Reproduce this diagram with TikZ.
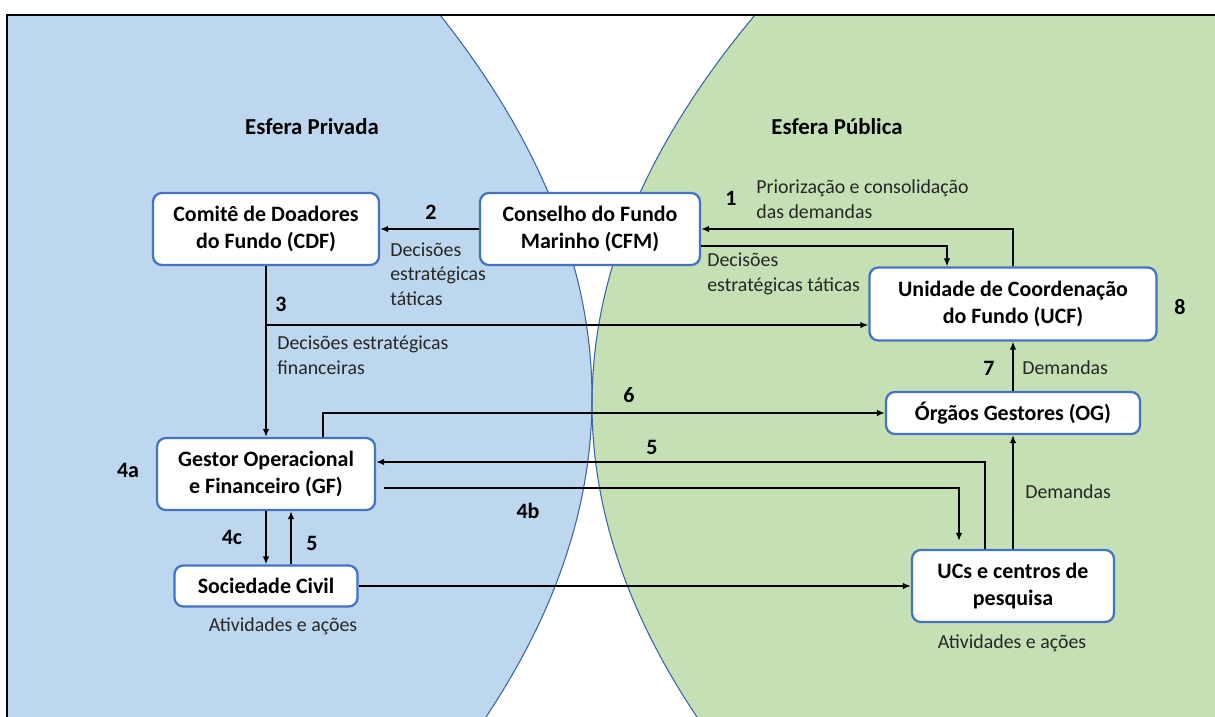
\documentclass[tikz,border=0pt]{standalone}
\usepackage{fontspec}
\setmainfont{Carlito}
\usepackage{xcolor}
\usetikzlibrary{arrows.meta,positioning,calc}
\definecolor{azulesfera}{HTML}{BDD7EE}
\definecolor{verdeesfera}{HTML}{C5E0B4}
\definecolor{bordaesfera}{HTML}{3A62AC}
\definecolor{bordacaixa}{HTML}{4472C4}
\tikzset{
  fundobox/.style={draw=bordacaixa,line width=1.3pt,fill=white,rounded corners=5pt,align=center,inner sep=0pt,font=\fontsize{12.5}{15.4}\selectfont\bfseries},
  seta/.style={-{Latex[length=4.6pt,width=3.8pt]},line width=1.15pt},
  rotulo/.style={font=\fontsize{11.3}{14}\selectfont,align=left,text=black!85,inner sep=0pt},
  numero/.style={font=\fontsize{12.5}{15}\selectfont\bfseries,inner sep=0pt},
  esfera/.style={font=\fontsize{13}{15}\selectfont\bfseries,inner sep=0pt},
  contorno/.style={bordaesfera,line width=0.6pt}
}

\begin{document}
\begin{tikzpicture}[x=0.02cm,y=-0.02cm]
  \useasboundingbox (0,0) rectangle (1215,717);
  \begin{scope}
    \clip (7,15) rectangle (1215,717);
    \fill[azulesfera] (0,15) -- (440,15) .. controls (541.3,142.7) and (592,270.3) .. (592,398)
      .. controls (592,504.3) and (556.7,610.7) .. (486,717) -- (0,717) -- cycle;
    \fill[verdeesfera] (1215,15) -- (755,15) .. controls (646.3,144.7) and (592,274.3) .. (592,404)
      .. controls (592,508.3) and (627,612.7) .. (697,717) -- (1215,717) -- cycle;
    \draw[contorno] (440,15) .. controls (541.3,142.7) and (592,270.3) .. (592,398)
      .. controls (592,504.3) and (556.7,610.7) .. (486,717);
    \draw[contorno] (755,15) .. controls (646.3,144.7) and (592,274.3) .. (592,404)
      .. controls (592,508.3) and (627,612.7) .. (697,717);
  \end{scope}
  \draw[line width=1.4pt] (7,717) -- (7,15) -- (1215,15);

  \node[esfera] (privada) at (312,127) {Esfera Privada};
  \node[esfera] (publica) at (837,127) {Esfera Pública};

  \node[fundobox,minimum width=4.52cm,minimum height=1.44cm] (cdf) at (266,229) {Comitê de Doadores\\do Fundo (CDF)};
  \node[fundobox,minimum width=4.4cm,minimum height=1.44cm] (cfm) at (590,229) {Conselho do Fundo\\Marinho (CFM)};
  \node[fundobox,minimum width=5.74cm,minimum height=1.46cm] (ucf) at (1013,304) {Unidade de Coordenação\\do Fundo (UCF)};
  \node[fundobox,minimum width=5.08cm,minimum height=0.84cm] (og) at (1013,413) {Órgãos Gestores (OG)};
  \node[fundobox,minimum width=4.36cm,minimum height=1.44cm] (gf) at (266,474) {Gestor Operacional\\e Financeiro (GF)};
  \node[fundobox,minimum width=3.66cm,minimum height=0.82cm] (sc) at (266,586) {Sociedade Civil};
  \node[fundobox,minimum width=4.04cm,minimum height=1.44cm] (ucs) at (1013,586) {UCs e centros de\\pesquisa};

  \draw[seta] (cfm) -- (cdf);
  \node[numero] (n2) at (431,212) {2};
  \node[rotulo,anchor=west] (t2) at (390,274) {Decisões\\estratégicas\\táticas};

  \draw[seta] (ucf.north) |- (cfm.east);
  \node[numero] (n1) at (731,198) {1};
  \node[rotulo,anchor=west] (t1) at (756,199) {Priorização e consolidação\\das demandas};

  \draw[seta] ($(cfm.east)+(0,17)$) -| ($(ucf.north)+(-66,0)$);
  \node[rotulo,anchor=west] (t1b) at (707,274) {Decisões\\estratégicas táticas};

  \draw[seta] (cdf) -- (gf);
  \coordinate (r3) at (266,325);
  \draw[seta] (r3) -- (r3 -| ucf.west);
  \node[numero] (n3) at (281,304) {3};
  \node[rotulo,anchor=west] (t3) at (277,355) {Decisões estratégicas\\financeiras};

  \draw[seta] ($(gf.north)+(57,0)$) |- (og.west);
  \node[numero] (n6) at (629,395) {6};

  \draw[seta] ($(ucs.north)+(-28,0)$) |- ($(gf.east)+(0,-12)$);
  \node[numero] (n5a) at (652,447) {5};

  \draw[seta] ($(gf.east)+(8,14)$) -| ($(ucs.north)+(-54,-8)$);
  \node[numero] (n4b) at (528,511) {4b};
  \node[numero] (n4a) at (128,470) {4a};

  \draw[seta] (og) -- (ucf);
  \node[numero] (n7) at (989,368) {7};
  \node[rotulo,anchor=west] (t7) at (1022,368) {Demandas};
  \node[numero] (n8) at (1180,307) {8};

  \draw[seta] (ucs) -- (og);
  \node[rotulo,anchor=west] (t9) at (1025,492) {Demandas};

  \draw[seta] (gf) -- (sc);
  \draw[seta] ($(sc.north)+(25,0)$) -- ($(gf.south)+(25,0)$);
  \node[numero] (n4c) at (232,537) {4c};
  \node[numero] (n5b) at (312,543) {5};

  \draw[seta] (sc) -- (ucs);
  \node[rotulo] (a1) at (283,626) {Atividades e ações};
  \node[rotulo] (a2) at (1012,643) {Atividades e ações};
\end{tikzpicture}
\end{document}
